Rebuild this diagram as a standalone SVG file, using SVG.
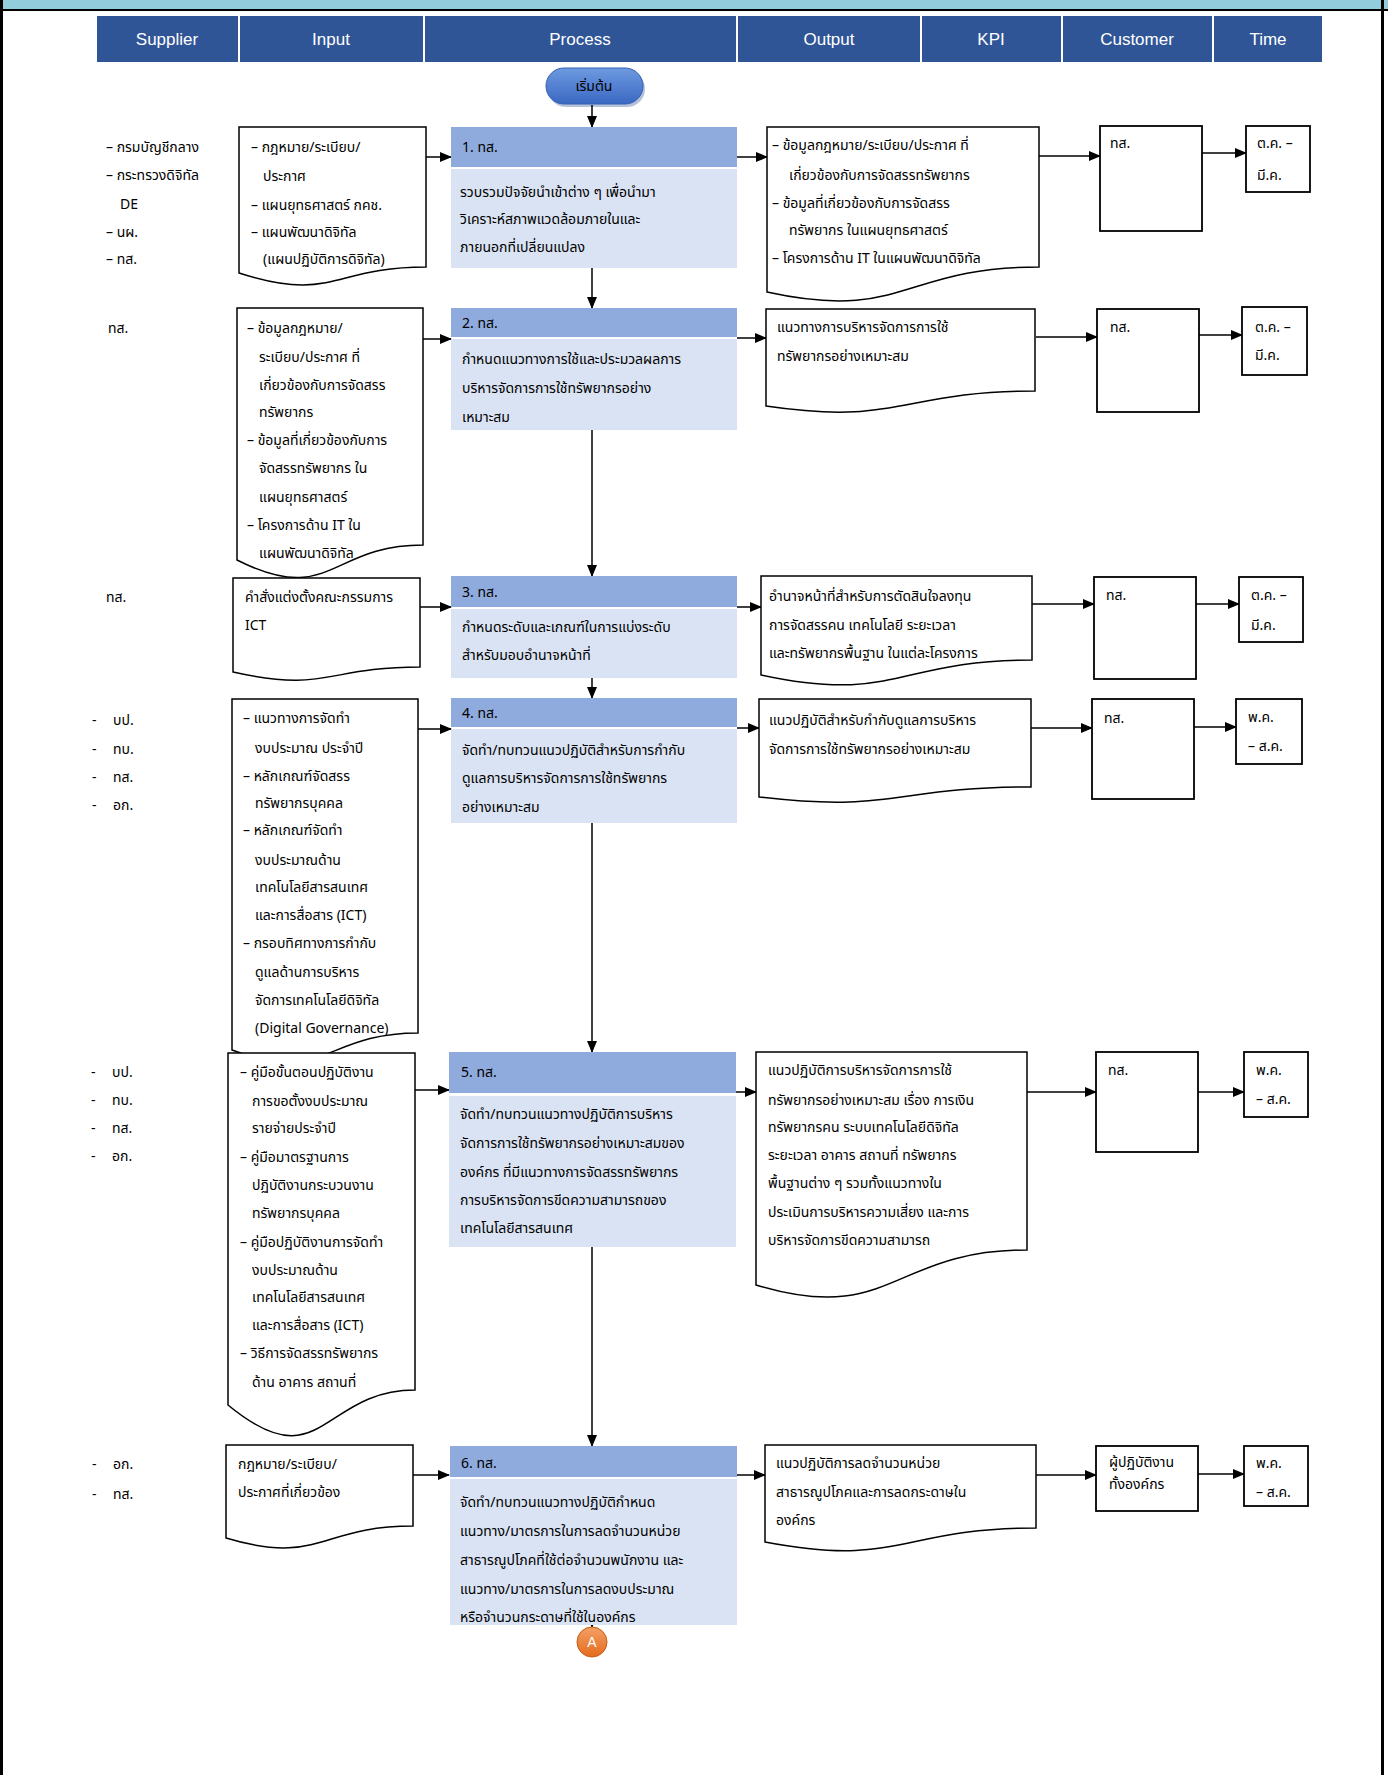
<svg xmlns="http://www.w3.org/2000/svg" width="1388" height="1775" viewBox="0 0 1388 1775">
<style>
.t{font-family:"Noto Sans Thai","Tahoma","Noto Sans",sans-serif;font-size:14px;fill:#000}
.h{font-family:"Liberation Sans","Noto Sans",sans-serif;font-size:17px;fill:#fff;text-anchor:middle}
.hd{fill:#2F5597}
.ph{fill:#8FAADC}
.pb{fill:#DAE3F3}
.doc{fill:#fff;stroke:#000;stroke-width:1.5}
.box{fill:#fff;stroke:#000;stroke-width:1.8}
.c{stroke:#000;stroke-width:1.5;fill:none;marker-end:url(#ah)}
</style>
<defs>
<marker id="ah" markerUnits="userSpaceOnUse" markerWidth="12" markerHeight="10" refX="11" refY="5" orient="auto">
<path d="M0,0 L12,5 L0,10 Z" fill="#000"/>
</marker>
<linearGradient id="gb" x1="0" y1="0" x2="0" y2="1">
<stop offset="0" stop-color="#6E9AE0"/><stop offset="1" stop-color="#3A68C2"/>
</linearGradient>
<linearGradient id="go" x1="0" y1="0" x2="0" y2="1">
<stop offset="0" stop-color="#F4A066"/><stop offset="1" stop-color="#E46C1E"/>
</linearGradient>
</defs>
<g id="frame">
<rect x="0" y="0" width="1388" height="10" fill="#92CDDC"/>
<line x1="0" y1="10" x2="1388" y2="10" stroke="#000" stroke-width="2"/>
<line x1="1.5" y1="0" x2="1.5" y2="1775" stroke="#000" stroke-width="3"/>
<line x1="1382.5" y1="0" x2="1382.5" y2="1775" stroke="#000" stroke-width="3"/>
</g>
<g id="header">
<rect class="hd" x="97" y="16" width="141" height="46"/>
<rect class="hd" x="240" y="16" width="183" height="46"/>
<rect class="hd" x="425" y="16" width="311" height="46"/>
<rect class="hd" x="738" y="16" width="182" height="46"/>
<rect class="hd" x="922" y="16" width="139" height="46"/>
<rect class="hd" x="1063" y="16" width="149" height="46"/>
<rect class="hd" x="1214" y="16" width="108" height="46"/>
<text class="h" x="167" y="45">Supplier</text>
<text class="h" x="331" y="45">Input</text>
<text class="h" x="580" y="45">Process</text>
<text class="h" x="829" y="45">Output</text>
<text class="h" x="991" y="45">KPI</text>
<text class="h" x="1137" y="45">Customer</text>
<text class="h" x="1268" y="45">Time</text>
</g>
<g id="start">
<rect x="548" y="71" width="97" height="36" rx="18" fill="#2a4f96" opacity="0.35"/>
<rect x="546" y="68" width="97" height="36" rx="18" fill="url(#gb)" stroke="#3560B0" stroke-width="1"/>
<text class="t" x="594" y="91" text-anchor="middle">เริ่มต้น</text>
</g>

<g id="connectors">
<path class="c" d="M592,105 V127"/>
<path class="c" d="M592,268 V308"/>
<path class="c" d="M592,430 V576"/>
<path class="c" d="M592,678 V698"/>
<path class="c" d="M592,823 V1052"/>
<path class="c" d="M592,1247 V1446"/>
<path class="c" d="M592,1616 V1627"/>
<path class="c" d="M426,157 H451"/>
<path class="c" d="M423,339 H451"/>
<path class="c" d="M420,607 H451"/>
<path class="c" d="M418,729 H451"/>
<path class="c" d="M415,1090 H449"/>
<path class="c" d="M413,1475 H449"/>
<path class="c" d="M737,157 H767"/>
<path class="c" d="M737,338 H766"/>
<path class="c" d="M737,607 H761"/>
<path class="c" d="M737,728 H759"/>
<path class="c" d="M736,1092 H756"/>
<path class="c" d="M737,1475 H765"/>
<path class="c" d="M1039,156 H1100"/>
<path class="c" d="M1036,337 H1097"/>
<path class="c" d="M1032,604 H1094"/>
<path class="c" d="M1031,728 H1092"/>
<path class="c" d="M1027,1092 H1096"/>
<path class="c" d="M1036,1475 H1096"/>
<path class="c" d="M1202,153 H1246"/>
<path class="c" d="M1199,335 H1242"/>
<path class="c" d="M1196,604 H1239"/>
<path class="c" d="M1194,727 H1236"/>
<path class="c" d="M1198,1092 H1244"/>
<path class="c" d="M1198,1474 H1244"/>
</g>

<g id="supplier1">
<text class="t" x="106" y="152">– กรมบัญชีกลาง</text>
<text class="t" x="106" y="180">– กระทรวงดิจิทัล</text>
<text class="t" x="120" y="209">DE</text>
<text class="t" x="106" y="237">– นผ.</text>
<text class="t" x="106" y="264">– ทส.</text>
</g>
<g id="input1">
<path class="doc" d="M239,127 H426 V267 C332.5,267 332.5,303 239,273 Z"/>
<text class="t" x="251" y="152">– กฎหมาย/ระเบียบ/</text>
<text class="t" x="263" y="181">ประกาศ</text>
<text class="t" x="251" y="210">– แผนยุทธศาสตร์ กคช.</text>
<text class="t" x="251" y="237">– แผนพัฒนาดิจิทัล</text>
<text class="t" x="263" y="264">(แผนปฏิบัติการดิจิทัล)</text>
</g>
<g id="process1">
<rect class="ph" x="451" y="127" width="286" height="40"/>
<rect class="pb" x="451" y="169" width="286" height="99"/>
<text class="t" x="462" y="152">1. ทส.</text>
<text class="t" x="460" y="197">รวบรวมปัจจัยนำเข้าต่าง ๆ เพื่อนำมา</text>
<text class="t" x="460" y="224">วิเคราะห์สภาพแวดล้อมภายในและ</text>
<text class="t" x="460" y="252">ภายนอกที่เปลี่ยนแปลง</text>
</g>
<g id="output1">
<path class="doc" d="M767,127 H1039 V267 C903,267 903,322 767,292 Z"/>
<text class="t" x="772" y="150">– ข้อมูลกฎหมาย/ระเบียบ/ประกาศ ที่</text>
<text class="t" x="789" y="180">เกี่ยวข้องกับการจัดสรรทรัพยากร</text>
<text class="t" x="772" y="208">– ข้อมูลที่เกี่ยวข้องกับการจัดสรร</text>
<text class="t" x="789" y="235">ทรัพยากร ในแผนยุทธศาสตร์</text>
<text class="t" x="772" y="263">– โครงการด้าน IT ในแผนพัฒนาดิจิทัล</text>
</g>
<g id="customer1">
<rect class="box" x="1100" y="126" width="102" height="105"/>
<text class="t" x="1110" y="148">ทส.</text>
</g>
<g id="time1">
<rect class="box" x="1246" y="126" width="64" height="66"/>
<text class="t" x="1257" y="148">ต.ค. –</text>
<text class="t" x="1257" y="180">มี.ค.</text>
</g>

<g id="supplier2">
<text class="t" x="108" y="333">ทส.</text>
</g>
<g id="input2">
<path class="doc" d="M237,308 H423 V545 C330,545 330,607 237,560 Z"/>
<text class="t" x="247" y="333">– ข้อมูลกฎหมาย/</text>
<text class="t" x="259" y="362">ระเบียบ/ประกาศ ที่</text>
<text class="t" x="259" y="390">เกี่ยวข้องกับการจัดสรร</text>
<text class="t" x="259" y="417">ทรัพยากร</text>
<text class="t" x="247" y="445">– ข้อมูลที่เกี่ยวข้องกับการ</text>
<text class="t" x="259" y="473">จัดสรรทรัพยากร ใน</text>
<text class="t" x="259" y="502">แผนยุทธศาสตร์</text>
<text class="t" x="247" y="530">– โครงการด้าน IT ใน</text>
<text class="t" x="259" y="558">แผนพัฒนาดิจิทัล</text>
</g>
<g id="process2">
<rect class="ph" x="451" y="308" width="286" height="29"/>
<rect class="pb" x="451" y="339" width="286" height="91"/>
<text class="t" x="462" y="328">2. ทส.</text>
<text class="t" x="462" y="364">กำหนดแนวทางการใช้และประมวลผลการ</text>
<text class="t" x="462" y="393">บริหารจัดการการใช้ทรัพยากรอย่าง</text>
<text class="t" x="462" y="422">เหมาะสม</text>
</g>
<g id="output2">
<path class="doc" d="M766,309 H1035 V391 C900.5,391 900.5,426 766,406 Z"/>
<text class="t" x="777" y="332">แนวทางการบริหารจัดการการใช้</text>
<text class="t" x="777" y="361">ทรัพยากรอย่างเหมาะสม</text>
</g>
<g id="customer2">
<rect class="box" x="1097" y="309" width="102" height="103"/>
<text class="t" x="1110" y="332">ทส.</text>
</g>
<g id="time2">
<rect class="box" x="1242" y="307" width="65" height="68"/>
<text class="t" x="1255" y="332">ต.ค. –</text>
<text class="t" x="1255" y="360">มี.ค.</text>
</g>

<g id="supplier3">
<text class="t" x="106" y="602">ทส.</text>
</g>
<g id="input3">
<path class="doc" d="M233,578 H420 V667 C326.5,667 326.5,693 233,672 Z"/>
<text class="t" x="245" y="602">คำสั่งแต่งตั้งคณะกรรมการ</text>
<text class="t" x="245" y="630">ICT</text>
</g>
<g id="process3">
<rect class="ph" x="451" y="576" width="286" height="31"/>
<rect class="pb" x="451" y="609" width="286" height="69"/>
<text class="t" x="462" y="597">3. ทส.</text>
<text class="t" x="462" y="632">กำหนดระดับและเกณฑ์ในการแบ่งระดับ</text>
<text class="t" x="462" y="660">สำหรับมอบอำนาจหน้าที่</text>
</g>
<g id="output3">
<path class="doc" d="M761,576 H1032 V660 C896.5,660 896.5,704 761,675 Z"/>
<text class="t" x="769" y="601">อำนาจหน้าที่สำหรับการตัดสินใจลงทุน</text>
<text class="t" x="769" y="630">การจัดสรรคน เทคโนโลยี ระยะเวลา</text>
<text class="t" x="769" y="658">และทรัพยากรพื้นฐาน ในแต่ละโครงการ</text>
</g>
<g id="customer3">
<rect class="box" x="1094" y="577" width="102" height="102"/>
<text class="t" x="1106" y="600">ทส.</text>
</g>
<g id="time3">
<rect class="box" x="1239" y="577" width="64" height="65"/>
<text class="t" x="1251" y="600">ต.ค. –</text>
<text class="t" x="1251" y="630">มี.ค.</text>
</g>

<g id="supplier4">
<text class="t" x="92" y="725">-</text><text class="t" x="113" y="725">บป.</text>
<text class="t" x="92" y="754">-</text><text class="t" x="113" y="754">ทบ.</text>
<text class="t" x="92" y="782">-</text><text class="t" x="113" y="782">ทส.</text>
<text class="t" x="92" y="810">-</text><text class="t" x="113" y="810">อก.</text>
</g>
<g id="input4">
<path class="doc" d="M232,699 H418 V1033 C325,1033 325,1085 232,1050 Z"/>
<text class="t" x="243" y="723">– แนวทางการจัดทำ</text>
<text class="t" x="255" y="753">งบประมาณ ประจำปี</text>
<text class="t" x="243" y="781">– หลักเกณฑ์จัดสรร</text>
<text class="t" x="255" y="808">ทรัพยากรบุคคล</text>
<text class="t" x="243" y="835">– หลักเกณฑ์จัดทำ</text>
<text class="t" x="255" y="865">งบประมาณด้าน</text>
<text class="t" x="255" y="892">เทคโนโลยีสารสนเทศ</text>
<text class="t" x="255" y="920">และการสื่อสาร (ICT)</text>
<text class="t" x="243" y="948">– กรอบทิศทางการกำกับ</text>
<text class="t" x="255" y="977">ดูแลด้านการบริหาร</text>
<text class="t" x="255" y="1005">จัดการเทคโนโลยีดิจิทัล</text>
<text class="t" x="255" y="1033">(Digital Governance)</text>
</g>
<g id="process4">
<rect class="ph" x="451" y="698" width="286" height="29"/>
<rect class="pb" x="451" y="729" width="286" height="94"/>
<text class="t" x="462" y="718">4. ทส.</text>
<text class="t" x="462" y="755">จัดทำ/ทบทวนแนวปฏิบัติสำหรับการกำกับ</text>
<text class="t" x="462" y="783">ดูแลการบริหารจัดการการใช้ทรัพยากร</text>
<text class="t" x="462" y="812">อย่างเหมาะสม</text>
</g>
<g id="output4">
<path class="doc" d="M759,699 H1031 V787 C895,787 895,813 759,797 Z"/>
<text class="t" x="769" y="725">แนวปฏิบัติสำหรับกำกับดูแลการบริหาร</text>
<text class="t" x="769" y="754">จัดการการใช้ทรัพยากรอย่างเหมาะสม</text>
</g>
<g id="customer4">
<rect class="box" x="1092" y="699" width="102" height="100"/>
<text class="t" x="1104" y="723">ทส.</text>
</g>
<g id="time4">
<rect class="box" x="1236" y="699" width="66" height="65"/>
<text class="t" x="1248" y="722">พ.ค.</text>
<text class="t" x="1248" y="751">– ส.ค.</text>
</g>

<g id="supplier5">
<text class="t" x="91" y="1077">-</text><text class="t" x="112" y="1077">บป.</text>
<text class="t" x="91" y="1105">-</text><text class="t" x="112" y="1105">ทบ.</text>
<text class="t" x="91" y="1133">-</text><text class="t" x="112" y="1133">ทส.</text>
<text class="t" x="91" y="1161">-</text><text class="t" x="112" y="1161">อก.</text>
</g>
<g id="input5">
<path class="doc" d="M228,1053 H415 V1390 C321.5,1390 321.5,1482 228,1405 Z"/>
<text class="t" x="240" y="1077">– คู่มือขั้นตอนปฏิบัติงาน</text>
<text class="t" x="252" y="1106">การขอตั้งงบประมาณ</text>
<text class="t" x="252" y="1133">รายจ่ายประจำปี</text>
<text class="t" x="240" y="1162">– คู่มือมาตรฐานการ</text>
<text class="t" x="252" y="1190">ปฏิบัติงานกระบวนงาน</text>
<text class="t" x="252" y="1218">ทรัพยากรบุคคล</text>
<text class="t" x="240" y="1247">– คู่มือปฏิบัติงานการจัดทำ</text>
<text class="t" x="252" y="1275">งบประมาณด้าน</text>
<text class="t" x="252" y="1302">เทคโนโลยีสารสนเทศ</text>
<text class="t" x="252" y="1330">และการสื่อสาร (ICT)</text>
<text class="t" x="240" y="1358">– วิธีการจัดสรรทรัพยากร</text>
<text class="t" x="252" y="1387">ด้าน อาคาร สถานที่</text>
</g>
<g id="process5">
<rect class="ph" x="449" y="1052" width="287" height="41"/>
<rect class="pb" x="449" y="1096" width="287" height="151"/>
<text class="t" x="461" y="1077">5. ทส.</text>
<text class="t" x="460" y="1119">จัดทำ/ทบทวนแนวทางปฏิบัติการบริหาร</text>
<text class="t" x="460" y="1148">จัดการการใช้ทรัพยากรอย่างเหมาะสมของ</text>
<text class="t" x="460" y="1177">องค์กร ที่มีแนวทางการจัดสรรทรัพยากร</text>
<text class="t" x="460" y="1205">การบริหารจัดการขีดความสามารถของ</text>
<text class="t" x="460" y="1233">เทคโนโลยีสารสนเทศ</text>
</g>
<g id="output5">
<path class="doc" d="M756,1052 H1027 V1250 C891.5,1250 891.5,1326 756,1285 Z"/>
<text class="t" x="768" y="1075">แนวปฏิบัติการบริหารจัดการการใช้</text>
<text class="t" x="768" y="1105">ทรัพยากรอย่างเหมาะสม เรื่อง การเงิน</text>
<text class="t" x="768" y="1132">ทรัพยากรคน ระบบเทคโนโลยีดิจิทัล</text>
<text class="t" x="768" y="1160">ระยะเวลา อาคาร สถานที่ ทรัพยากร</text>
<text class="t" x="768" y="1188">พื้นฐานต่าง ๆ รวมทั้งแนวทางใน</text>
<text class="t" x="768" y="1217">ประเมินการบริหารความเสี่ยง และการ</text>
<text class="t" x="768" y="1245">บริหารจัดการขีดความสามารถ</text>
</g>
<g id="customer5">
<rect class="box" x="1096" y="1052" width="102" height="100"/>
<text class="t" x="1108" y="1075">ทส.</text>
</g>
<g id="time5">
<rect class="box" x="1244" y="1052" width="64" height="65"/>
<text class="t" x="1256" y="1075">พ.ค.</text>
<text class="t" x="1256" y="1104">– ส.ค.</text>
</g>

<g id="supplier6">
<text class="t" x="92" y="1469">-</text><text class="t" x="113" y="1469">อก.</text>
<text class="t" x="92" y="1499">-</text><text class="t" x="113" y="1499">ทส.</text>
</g>
<g id="input6">
<path class="doc" d="M226,1445 H413 V1526 C319.5,1526 319.5,1566 226,1538 Z"/>
<text class="t" x="238" y="1469">กฎหมาย/ระเบียบ/</text>
<text class="t" x="238" y="1497">ประกาศที่เกี่ยวข้อง</text>
</g>
<g id="process6">
<rect class="ph" x="450" y="1446" width="287" height="31"/>
<rect class="pb" x="450" y="1479" width="287" height="146"/>
<text class="t" x="461" y="1468">6. ทส.</text>
<text class="t" x="460" y="1507">จัดทำ/ทบทวนแนวทางปฏิบัติกำหนด</text>
<text class="t" x="460" y="1536">แนวทาง/มาตรการในการลดจำนวนหน่วย</text>
<text class="t" x="460" y="1565">สาธารณูปโภคที่ใช้ต่อจำนวนพนักงาน และ</text>
<text class="t" x="460" y="1594">แนวทาง/มาตรการในการลดงบประมาณ</text>
<text class="t" x="460" y="1622">หรือจำนวนกระดาษที่ใช้ในองค์กร</text>
</g>
<g id="output6">
<path class="doc" d="M765,1445 H1036 V1528 C900.5,1528 900.5,1568 765,1542 Z"/>
<text class="t" x="776" y="1468">แนวปฏิบัติการลดจำนวนหน่วย</text>
<text class="t" x="776" y="1497">สาธารณูปโภคและการลดกระดาษใน</text>
<text class="t" x="776" y="1525">องค์กร</text>
</g>
<g id="customer6">
<rect class="box" x="1096" y="1446" width="102" height="65"/>
<text class="t" x="1109" y="1467">ผู้ปฏิบัติงาน</text>
<text class="t" x="1109" y="1489">ทั้งองค์กร</text>
</g>
<g id="time6">
<rect class="box" x="1244" y="1446" width="64" height="60"/>
<text class="t" x="1256" y="1468">พ.ค.</text>
<text class="t" x="1256" y="1497">– ส.ค.</text>
</g>
<g id="connectorA">
<circle cx="592" cy="1642" r="15" fill="url(#go)" stroke="#C55A11" stroke-width="1"/>
<text x="592" y="1647" text-anchor="middle" font-family="Liberation Sans, sans-serif" font-size="14" fill="#fff">A</text>
</g>
</svg>
